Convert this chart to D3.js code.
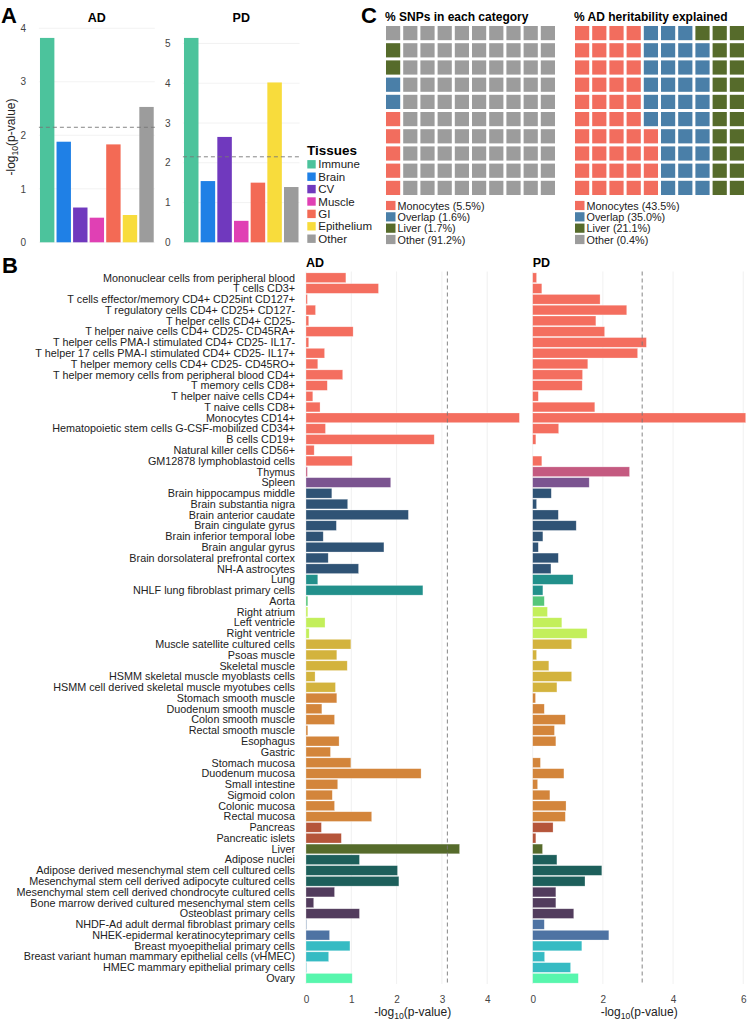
<!DOCTYPE html>
<html><head><meta charset="utf-8">
<script src="https://cdn.jsdelivr.net/npm/d3@7"></script>
<style>body{margin:0;background:#fff} text{font-family:"Liberation Sans", Arial, Helvetica, sans-serif}</style>
</head><body><svg id="c" width="750" height="1022"></svg>
<script>
// ---------- Panel A data ----------
const tissues = ["Immune","Brain","CV","Muscle","GI","Epithelium","Other"];
const tissueColors = ["#4cc39c","#1f80e6","#7039be","#e040b4","#f36a55","#f8dc3c","#9c9c9c"];
const tissueAD = [3.82,1.88,0.65,0.46,1.83,0.51,2.53];
const tissuePD = [5.14,1.54,2.65,0.54,1.50,4.02,1.39];
const tissueThreshold = 2.15;
const ticksA_AD = [0,1,2,3,4];
const ticksA_PD = [0,1,2,3,4,5];

// ---------- Panel B data ----------
const cellTypes = [
"Mononuclear cells from peripheral blood","T cells CD3+","T cells effector/memory CD4+ CD25int CD127+",
"T regulatory cells CD4+ CD25+ CD127-","T helper cells CD4+ CD25-","T helper naive cells CD4+ CD25- CD45RA+",
"T helper cells PMA-I stimulated CD4+ CD25- IL17-","T helper 17 cells PMA-I stimulated CD4+ CD25- IL17+",
"T helper memory cells CD4+ CD25- CD45RO+","T helper memory cells from peripheral blood CD4+",
"T memory cells CD8+","T helper naive cells CD4+","T naive cells CD8+","Monocytes CD14+",
"Hematopoietic stem cells G-CSF-mobilized CD34+","B cells CD19+","Natural killer cells CD56+",
"GM12878 lymphoblastoid cells","Thymus","Spleen","Brain hippocampus middle","Brain substantia nigra",
"Brain anterior caudate","Brain cingulate gyrus","Brain inferior temporal lobe","Brain angular gyrus",
"Brain dorsolateral prefrontal cortex","NH-A astrocytes","Lung","NHLF lung fibroblast primary cells",
"Aorta","Right atrium","Left ventricle","Right ventricle","Muscle satellite cultured cells","Psoas muscle",
"Skeletal muscle","HSMM skeletal muscle myoblasts cells","HSMM cell derived skeletal muscle myotubes cells",
"Stomach smooth muscle","Duodenum smooth muscle","Colon smooth muscle","Rectal smooth muscle","Esophagus",
"Gastric","Stomach mucosa","Duodenum mucosa","Small intestine","Sigmoid colon","Colonic mucosa",
"Rectal mucosa","Pancreas","Pancreatic islets","Liver","Adipose nuclei",
"Adipose derived mesenchymal stem cell cultured cells","Mesenchymal stem cell derived adipocyte cultured cells",
"Mesenchymal stem cell derived chondrocyte cultured cells","Bone marrow derived cultured mesenchymal stem cells",
"Osteoblast primary cells","NHDF-Ad adult dermal fibroblast primary cells","NHEK-epidermal keratinocyteprimary cells",
"Breast myoepithelial primary cells","Breast variant human mammary epithelial cells (vHMEC)",
"HMEC mammary epithelial primary cells","Ovary"];
const groupNames  = ["Immune","Thymus","Spleen","Brain","Lung","Aorta","Heart","Muscle","GI","Pancreas","Liver","Adipose","Mesenchymal","Skin","Breast","Ovary"];
const groupCounts = [18,1,1,8,2,1,3,5,12,2,1,3,3,2,3,1];
const groupColors = ["#f46e5f","#c45a80","#7b5490","#2f5375","#22908b","#55c67a","#c3ef5b","#d3b33d","#d3853b","#b5553a","#566b2b","#1d5f5b","#523c5d","#4e73a3","#36bbc3","#57f6ad"];
const adValues = [0.88,1.60,0.03,0.21,0.06,1.04,0.06,0.41,0.26,0.81,0.47,0.15,0.31,4.71,0.43,2.83,0.18,1.02,
 0.03,1.87,0.57,0.92,2.26,0.67,0.38,1.72,0.49,1.16,0.26,2.58,0.04,0.04,0.42,0.07,0.99,0.68,0.91,0.20,0.65,
 0.68,0.35,0.63,0.04,0.73,0.54,0.99,2.54,0.70,0.58,0.63,1.45,0.34,0.78,3.39,1.18,2.02,2.05,0.63,0.17,1.18,
 0.01,0.52,0.97,0.50,0.01,1.02];
const pdValues = [0.11,0.26,1.92,2.68,1.80,2.05,3.24,2.99,1.57,1.42,1.41,0.16,1.77,6.07,0.74,0.09,0,0.26,
 2.76,1.61,0.53,0.11,0.73,1.24,0.29,0.16,0.73,0.52,1.15,0.29,0.33,0.42,0.83,1.55,1.11,0.11,0.46,1.11,0.69,
 0.08,0.33,0.93,0.62,0.66,0,0.22,0.89,0.14,0.49,0.95,0.93,0.58,0.09,0.28,0.69,1.97,1.49,0.66,0.66,1.17,
 0.33,2.17,1.40,0.34,1.08,1.30];
const cellThreshold = 3.12;
const ticksB_AD = [0,1,2,3,4];
const ticksB_PD = [0,2,4,6];

// ---------- Panel C data ----------
const waffleCats = ["Monocytes","Overlap","Liver","Other"];
const waffleColors = ["#f26d5e","#4a7fa8","#566b2b","#9c9c9c"];
const snpPercent = [5.5,1.6,1.7,91.2];
const snpCells = [5,2,2,91];
const heritPercent = [43.5,35.0,21.1,0.4];
const heritCells = [44,35,21,0];

const svg = d3.select("#c");
const FONT = '"Liberation Sans", Arial, Helvetica, sans-serif';

function logLabel(sel, fs){
  sel.append("tspan").text("-log");
  sel.append("tspan").attr("dy", fs*0.28).attr("font-size", fs*0.72).text("10");
  sel.append("tspan").attr("dy", -fs*0.28).text("(p-value)");
}

// Panel letters
[["A",1,23],["B",2,273],["C",361,23]].forEach(([t,x,y])=>{
  svg.append("text").attr("x",x).attr("y",y).attr("font-size",22).attr("font-weight","bold").attr("fill","#000").text(t);
});

// ---------- Panel A ----------
function panelA(vals, ticks, x0, x1, tickX, title){
  const g = svg.append("g");
  const x = d3.scaleBand().domain(tissues).range([x0,x1]).paddingInner(0.13).paddingOuter(0.065);
  const y = d3.scaleLinear().domain([0, d3.max(vals)*1.05]).range([242.3, 27.7]);
  g.selectAll(".grid").data(ticks).join("line")
    .attr("x1",x0).attr("x2",x1).attr("y1",d=>y(d)).attr("y2",d=>y(d))
    .attr("stroke","#efefef").attr("stroke-width",0.8);
  g.selectAll(".bar").data(vals).join("rect")
    .attr("x",(d,i)=>x(tissues[i])).attr("width",x.bandwidth())
    .attr("y",d=>y(d)).attr("height",d=>y(0)-y(d))
    .attr("fill",(d,i)=>tissueColors[i]);
  g.append("line").attr("x1",x0).attr("x2",x1+2).attr("y1",y(tissueThreshold)).attr("y2",y(tissueThreshold))
    .attr("stroke","#777").attr("stroke-width",0.9).attr("stroke-dasharray","4,3");
  const ax = d3.axisLeft(y).tickValues(ticks).tickSize(0).tickPadding(0).tickFormat(d3.format("d"));
  const axg = g.append("g").attr("transform",`translate(${tickX+3},0)`).call(ax);
  axg.select(".domain").remove();
  axg.selectAll("text").attr("font-size",10).attr("fill","#444").attr("font-family",FONT).attr("text-anchor","middle").attr("dx",-3);
  g.append("text").attr("x",(x0+x1)/2).attr("y",22).attr("text-anchor","middle")
    .attr("font-size",12.5).attr("font-weight","bold").text(title);
}
panelA(tissueAD, ticksA_AD, 38.9, 154.8, 23.3, "AD");
panelA(tissuePD, ticksA_PD, 182.9, 299.6, 167.7, "PD");
{
  const t = svg.append("text").attr("transform","translate(15,137) rotate(-90)").attr("text-anchor","middle").attr("font-size",12).attr("fill","#222");
  logLabel(t,12);
}
// Tissues legend
{
  const lg = svg.append("g");
  lg.append("text").attr("x",307).attr("y",155).attr("font-size",13.5).attr("font-weight","bold").text("Tissues");
  const ly = d3.scalePoint().domain(tissues).range([164.3,238.7]);
  lg.selectAll("rect").data(tissues).join("rect")
    .attr("x",307.3).attr("y",d=>ly(d)-4.2).attr("width",8.4).attr("height",8.4)
    .attr("fill",(d,i)=>tissueColors[i]);
  lg.selectAll(".lt").data(tissues).join("text")
    .attr("x",318.3).attr("y",d=>ly(d)+4).attr("font-size",11.5).attr("fill","#222").text(d=>d);
}

// ---------- Panel C ----------
function waffle(cells, pcts, x0, title){
  const g = svg.append("g");
  const xs = d3.scaleBand().domain(d3.range(10)).range([x0, x0+172]).paddingInner(0.174).paddingOuter(0.087);
  const ys = d3.scaleBand().domain(d3.range(10)).range([24.5, 196.5]).paddingInner(0.174).paddingOuter(0.087);
  const assign = [];
  cells.forEach((n,ci)=>{ for(let k=0;k<n;k++) assign.push(ci); });
  g.selectAll("rect.cell").data(assign).join("rect")
    .attr("x",(d,k)=>xs(Math.floor(k/10))).attr("y",(d,k)=>ys(9 - k%10))
    .attr("width",xs.bandwidth()).attr("height",ys.bandwidth())
    .attr("fill",d=>waffleColors[d]);
  g.append("text").attr("x",x0+0.5).attr("y",21).attr("font-size",12).attr("font-weight","bold").text(title);
  const ly = d3.scalePoint().domain(waffleCats).range([205.5,239.5]);
  g.selectAll("rect.lg").data(waffleCats).join("rect")
    .attr("x",x0+1.5).attr("y",d=>ly(d)-4.6).attr("width",9.5).attr("height",9.2)
    .attr("fill",(d,i)=>waffleColors[i]);
  g.selectAll("text.lg").data(waffleCats).join("text")
    .attr("x",x0+13).attr("y",d=>ly(d)+4).attr("font-size",10.8).attr("fill","#222")
    .text((d,i)=>`${d} (${pcts[i].toFixed(1)}%)`);
}
waffle(snpCells, snpPercent, 384.5, "% SNPs in each category");
waffle(heritCells, heritPercent, 573.5, "% AD heritability explained");

// ---------- Panel B ----------
const rowColor = [];
groupCounts.forEach((n,gi)=>{ for(let k=0;k<n;k++) rowColor.push(groupColors[gi]); });
const yB = d3.scaleBand().domain(cellTypes).range([271.8, 984.2]).paddingInner(0.1).paddingOuter(0.1);

svg.append("g").selectAll("text").data(cellTypes).join("text")
  .attr("x",295).attr("y",d=>yB(d)+yB.bandwidth()/2).attr("dy","0.35em")
  .attr("text-anchor","end").attr("font-size",10.8).attr("fill","#222").text(d=>d);

function panelB(vals, ticks, x0, x1, title){
  const g = svg.append("g");
  const x = d3.scaleLinear().domain([0, d3.max(vals)]).range([x0, x1]);
  g.selectAll(".grid").data(ticks).join("line")
    .attr("x1",d=>x(d)).attr("x2",d=>x(d)).attr("y1",271.5).attr("y2",984)
    .attr("stroke","#ececec").attr("stroke-width",0.8);
  g.selectAll(".bar").data(vals).join("rect")
    .attr("x",x(0)).attr("width",d=>x(d)-x(0))
    .attr("y",(d,i)=>yB(cellTypes[i])).attr("height",yB.bandwidth())
    .attr("fill",(d,i)=>rowColor[i]).attr("stroke","rgba(255,255,255,0.45)").attr("stroke-width",0.6);
  g.append("line").attr("x1",x(cellThreshold)).attr("x2",x(cellThreshold)).attr("y1",271.5).attr("y2",984)
    .attr("stroke","#777").attr("stroke-width",0.9).attr("stroke-dasharray","4,3");
  const ax = d3.axisBottom(x).tickValues(ticks).tickSize(0).tickPadding(0).tickFormat(d3.format("d"));
  const axg = g.append("g").attr("transform","translate(0,996)").call(ax);
  axg.select(".domain").remove();
  axg.selectAll("text").attr("font-size",10).attr("fill","#444").attr("font-family",FONT).attr("dy","0.7em");
  g.append("text").attr("x",x0).attr("y",267).attr("font-size",12.5).attr("font-weight","bold").text(title);
  const t = g.append("text").attr("x",(x0+x1)/2).attr("y",1016).attr("text-anchor","middle").attr("font-size",12).attr("fill","#222");
  logLabel(t,12);
}
panelB(adValues, ticksB_AD, 306, 519.4, "AD");
panelB(pdValues, ticksB_PD, 532.7, 745.7, "PD");
</script></body></html>
